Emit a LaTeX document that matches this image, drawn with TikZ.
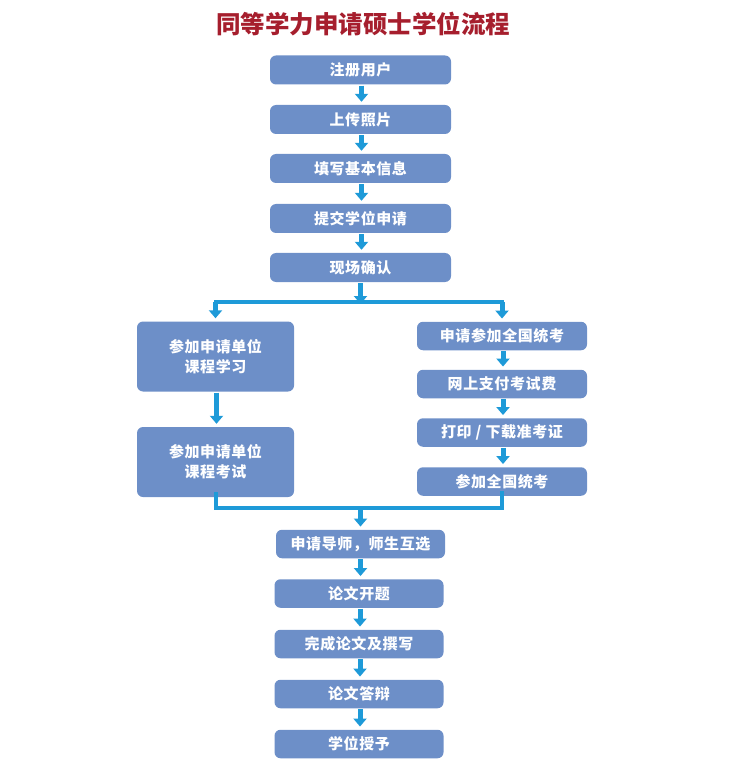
\documentclass[tikz,border=0pt]{standalone}
\usepackage{fontspec}
\newfontfamily\cjkbox{Noto Sans CJK SC}[LetterSpace=4]
\newfontfamily\cjktitle{Noto Sans CJK SC}
\usetikzlibrary{arrows.meta}
\definecolor{boxblue}{HTML}{6D8FC8}
\definecolor{arrowblue}{HTML}{1E9AD8}
\definecolor{titlered}{HTML}{A61E2D}
\tikzset{
  stepbox/.style={fill=boxblue, rounded corners=6pt, text=white,
    font=\cjkbox\bfseries\fontsize{15}{20}\selectfont,
    inner sep=0pt, align=center},
  topbox/.style={stepbox, minimum width=181pt, minimum height=29pt},
  leftbox/.style={stepbox, minimum width=157pt, minimum height=70pt},
  rightbox/.style={stepbox, minimum width=170pt, minimum height=28.5pt},
  midbox/.style={stepbox, minimum width=169pt, minimum height=28.5pt},
  flowarrow/.style={draw=arrowblue, line width=5pt,
    -{Triangle[width=13pt,length=8pt]}, shorten <=1pt, shorten >=3pt},
  flowbar/.style={draw=arrowblue, line width=4pt, line cap=rect}
}
\begin{document}
\begin{tikzpicture}[x=1pt,y=-1pt]
\useasboundingbox (0,0) rectangle (739,775);
\node[text=titlered, font=\cjktitle\bfseries\fontsize{24.5}{28}\selectfont] (title) at (363,24) {同等学力申请硕士学位流程};

\node[topbox] (b1) at (360.5,70) {注册用户};
\node[topbox] (b2) at (360.5,119.5) {上传照片};
\node[topbox] (b3) at (360.5,168.5) {填写基本信息};
\node[topbox] (b4) at (360.5,218.5) {提交学位申请};
\node[topbox] (b5) at (360.5,267.5) {现场确认};

\node[leftbox] (l1) at (215.5,356.5) {参加申请单位\\课程学习};
\node[leftbox] (l2) at (215.5,462) {参加申请单位\\课程考试};

\node[rightbox] (r1) at (502,336) {申请参加全国统考};
\node[rightbox] (r2) at (502,384) {网上支付考试费};
\node[rightbox] (r3) at (502,432.5) {打印 / 下载准考证};
\node[rightbox] (r4) at (502,481.5) {参加全国统考};

\node[midbox] (m1) at (360.5,544) {申请导师，师生互选};
\node[midbox] (m2) at (359,593.5) {论文开题};
\node[midbox] (m3) at (359,644) {完成论文及撰写};
\node[midbox] (m4) at (359,694) {论文答辩};
\node[midbox] (m5) at (359,744) {学位授予};

\coordinate (split) at (360.5,302);
\coordinate (merge) at (360.5,508);

\foreach \a/\b in {b1/b2,b2/b3,b3/b4,b4/b5,l1/l2,r1/r2,r2/r3,r3/r4,m2/m3,m3/m4,m4/m5}
  \draw[flowarrow] ([xshift=1pt]\a.south) -- ([xshift=1pt]\b.north);
\draw[flowarrow] (m1.south) -- (m1.south |- m2.north);

\draw[flowarrow, shorten >=0pt] (b5.south) -- ([yshift=-2pt]split);
\draw[flowbar] (l1.north |- split) -- (r1.north |- split);
\draw[flowarrow, shorten <=0pt] (l1.north |- split) -- (l1.north);
\draw[flowarrow, shorten <=0pt] (r1.north |- split) -- (r1.north);

\draw[flowbar] ([yshift=3pt]l2.south) -- (l2.south |- merge) -- (r4.south |- merge) -- ([yshift=3pt]r4.south);
\draw[flowarrow, shorten <=0pt] (merge) -- (m1.north);
\end{tikzpicture}
\end{document}
